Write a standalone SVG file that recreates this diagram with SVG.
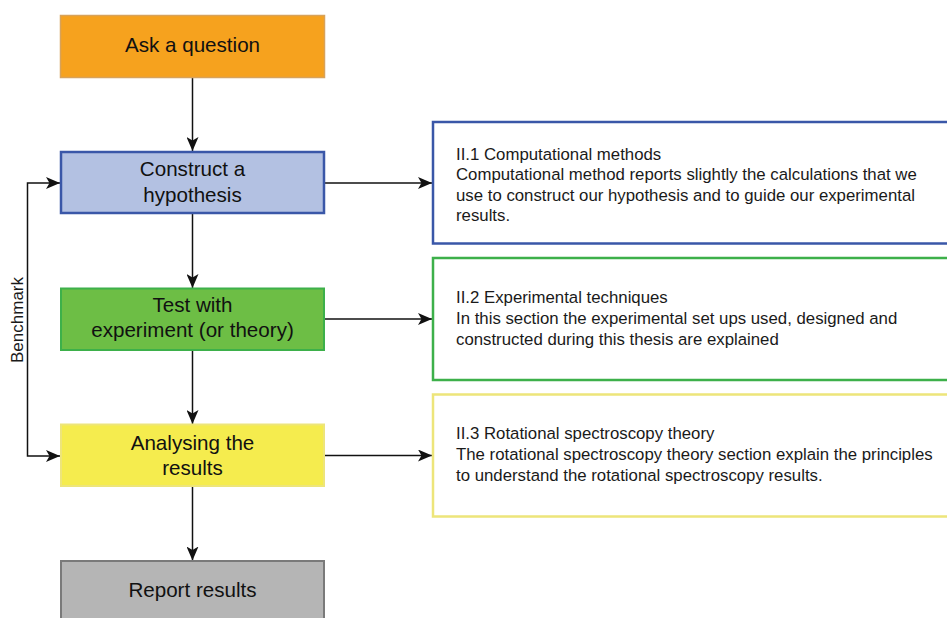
<svg xmlns="http://www.w3.org/2000/svg" width="947" height="618" viewBox="0 0 947 618">
  <style>
    .main { font-family: "Liberation Sans", Arial, sans-serif; font-size: 20.6px; fill: #111; text-anchor: middle; }
    .desc { font-family: "Liberation Sans", Arial, sans-serif; font-size: 16.8px; fill: #1a1a1a; }
    .lbl { font-family: "Liberation Sans", Arial, sans-serif; font-size: 17px; fill: #1a1a1a; text-anchor: middle; }
    .conn { fill: none; stroke: #111; stroke-width: 1.5; }
  </style>
  <defs>
    <marker id="arr" viewBox="0 0 14 12" refX="14" refY="6" markerWidth="14" markerHeight="12" markerUnits="userSpaceOnUse" orient="auto-start-reverse">
      <path d="M0,0 L14,6 L0,12 L3.5,6 Z" fill="#111"/>
    </marker>
  </defs>
  <rect width="947" height="618" fill="#ffffff"/>

  <g id="connectors">
    <path class="conn" d="M192.5,77.5 V151" marker-end="url(#arr)"/>
    <path class="conn" d="M192.5,213.5 V288" marker-end="url(#arr)"/>
    <path class="conn" d="M192.5,350.5 V424" marker-end="url(#arr)"/>
    <path class="conn" d="M192.5,486.5 V560.5" marker-end="url(#arr)"/>
    <path class="conn" d="M325,183 H432" marker-end="url(#arr)"/>
    <path class="conn" d="M325,319 H432" marker-end="url(#arr)"/>
    <path class="conn" d="M325,455.5 H432" marker-end="url(#arr)"/>
    <path class="conn" d="M60,183 H27.5 V456 H60" marker-start="url(#arr)" marker-end="url(#arr)"/>
    <text class="lbl" transform="translate(22.5,320) rotate(-90)">Benchmark</text>
  </g>

  <g id="ask">
    <rect x="60.5" y="15.5" width="264" height="62" fill="#F6A21E" stroke="#D8A25A" stroke-width="1.5"/>
    <text class="main" x="192.5" y="52">Ask a question</text>
  </g>
  <g id="hypothesis">
    <rect x="61" y="152" width="263" height="61" fill="#B3C1E2" stroke="#3A57A8" stroke-width="2.5"/>
    <text class="main" x="192.5" y="175.5">Construct a</text>
    <text class="main" x="192.5" y="201.5">hypothesis</text>
  </g>
  <g id="test">
    <rect x="61" y="288.5" width="263" height="61.5" fill="#6DBE45" stroke="#3DB04A" stroke-width="2"/>
    <text class="main" x="192.5" y="311.5">Test with</text>
    <text class="main" x="192.5" y="337">experiment (or theory)</text>
  </g>
  <g id="analysing">
    <rect x="61" y="424.5" width="263" height="61.5" fill="#F5EC4E" stroke="#EDE57A" stroke-width="2"/>
    <text class="main" x="192.5" y="449.5">Analysing the</text>
    <text class="main" x="192.5" y="475">results</text>
  </g>
  <g id="report">
    <rect x="61" y="561" width="263" height="70" fill="#B5B5B5" stroke="#7A7A7A" stroke-width="2"/>
    <text class="main" x="192.5" y="597">Report results</text>
  </g>

  <g id="comp-methods">
    <rect x="433" y="122" width="530" height="121.5" fill="#ffffff" stroke="#3A57A8" stroke-width="2.5"/>
    <text class="desc" x="456" y="159.5">II.1 Computational methods</text>
    <text class="desc" x="456" y="180">Computational method reports slightly the calculations that we</text>
    <text class="desc" x="456" y="200.5">use to construct our hypothesis and to guide our experimental</text>
    <text class="desc" x="456" y="221">results.</text>
  </g>
  <g id="exp-techniques">
    <rect x="433" y="258" width="530" height="122" fill="#ffffff" stroke="#3DB04A" stroke-width="2.5"/>
    <text class="desc" x="456" y="303">II.2 Experimental techniques</text>
    <text class="desc" x="456" y="324">In this section the experimental set ups used, designed and</text>
    <text class="desc" x="456" y="345">constructed during this thesis are explained</text>
  </g>
  <g id="rot-theory">
    <rect x="433" y="394.5" width="530" height="122" fill="#ffffff" stroke="#EDE57A" stroke-width="2.5"/>
    <text class="desc" x="456" y="439">II.3 Rotational spectroscopy theory</text>
    <text class="desc" x="456" y="460">The rotational spectroscopy theory section explain the principles</text>
    <text class="desc" x="456" y="480.5">to understand the rotational spectroscopy results.</text>
  </g>
</svg>
